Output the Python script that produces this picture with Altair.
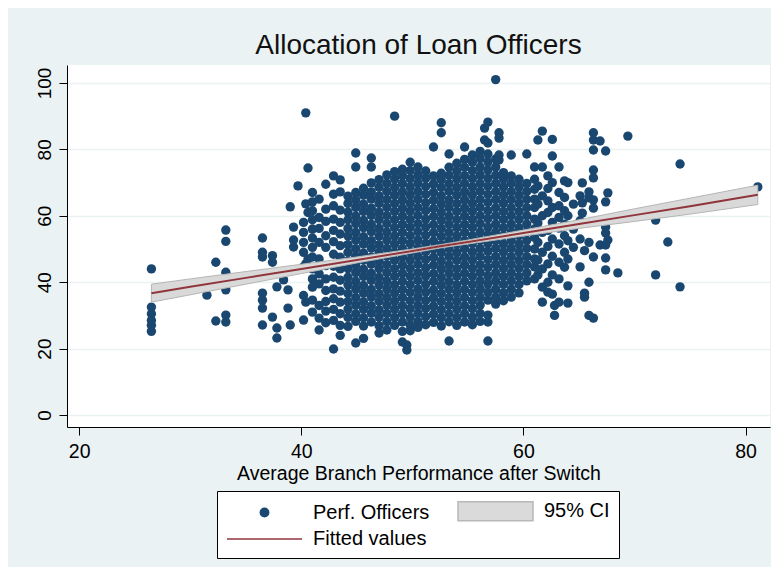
import altair as alt
import pandas as pd

# ---- scatter values: (branch performance, [officer performances]) ----
left_sparse = [
    (26.5, [44.0, 32.5, 30.5, 28.5, 27.0, 25.2]),
    (31.5, [36.1]),
    (32.3, [46.0, 28.3]),
    (33.2, [55.7, 52.3, 43.0, 37.7, 30.1, 28.0]),
    (36.5, [53.3, 49.0, 47.6, 36.7, 34.6, 32.2, 27.1]),
    (37.4, [48.0, 46.0, 29.5]),
    (37.8, [38.6, 26.2, 23.2]),
    (38.4, [40.7]),
    (38.8, [37.7, 32.2]),
    (39.0, [62.7, 27.1]),
    (39.3, [56.6, 52.7, 50.6]),
    (39.7, [69.0]),
]

left_columns = [
    (40.2, [58.0, 55.0, 52.0, 49.0, 44.6, 36.0, 28.6]),
    (40.4, [91.0, 63.6, 45.5, 34.0]),
    (40.6, [74.4, 61.0, 47.0]),
    (41.0, [67.0, 64.2, 61.5, 58.8, 56.0, 53.3, 50.5, 47.6, 44.0, 41.0, 38.5, 34.6, 31.0]),
    (41.6, [65.0, 59.5, 56.2, 52.0, 47.0, 42.5, 39.5, 33.0, 29.2, 25.6]),
    (42.2, [69.5, 62.0, 58.3, 54.0, 50.5, 45.0, 41.0, 37.5, 34.2, 31.3, 27.8]),
    (42.9, [72.0, 66.5, 63.0, 59.0, 55.6, 52.2, 48.4, 44.8, 41.5, 38.0, 35.0, 31.8, 28.5, 19.9]),
    (43.5, [70.8, 67.2, 61.7, 58.0, 54.5, 51.0, 47.5, 44.0, 40.6, 37.3, 34.0, 30.5, 27.0, 24.0]),
]

core_columns = [
    (44.2, [26.7, 29.4, 31.9, 34.2, 36.6, 39.2, 41.5, 44.1, 46.4, 49.0, 51.3, 53.9, 56.2, 58.8, 61.1, 63.7, 65.9]),
    (44.9, [21.7, 28.2, 30.5, 33.1, 35.4, 38.0, 40.3, 42.9, 45.2, 47.8, 50.1, 52.7, 55.0, 57.6, 59.9, 62.5, 64.8, 67.0, 74.7, 78.9]),
    (45.6, [23.1, 26.8, 29.3, 31.9, 34.1, 36.8, 39.0, 41.7, 43.9, 46.6, 48.8, 51.5, 53.7, 56.4, 58.6, 61.3, 63.5, 66.2, 68.3]),
    (46.3, [28.0, 30.7, 32.9, 35.6, 37.8, 40.5, 42.7, 45.4, 47.6, 50.3, 52.5, 55.2, 57.4, 60.1, 62.3, 65.0, 67.2, 69.9, 74.7, 77.4]),
    (47.0, [24.7, 26.9, 29.5, 31.7, 34.3, 36.6, 39.2, 41.5, 44.1, 46.4, 49.0, 51.3, 53.9, 56.2, 58.8, 61.1, 63.7, 66.0, 68.6, 70.9]),
    (47.7, [25.6, 28.1, 30.6, 33.1, 35.5, 38.0, 40.4, 42.9, 45.3, 47.8, 50.2, 52.7, 55.1, 57.6, 60.0, 62.5, 64.9, 67.4, 69.8, 72.3]),
    (48.4, [27.0, 29.4, 31.9, 34.3, 36.8, 39.2, 41.7, 44.1, 46.6, 49.0, 51.5, 53.9, 56.4, 58.8, 61.3, 63.7, 66.2, 68.6, 71.1, 73.3, 90.0]),
    (49.1, [22.0, 25.2, 28.0, 30.5, 32.9, 35.4, 37.8, 40.3, 42.7, 45.2, 47.6, 50.1, 52.5, 55.0, 57.4, 59.9, 62.3, 64.8, 67.2, 69.7, 72.1, 74.0]),
    (49.5, [19.6, 21.1]),
    (49.8, [25.4, 27.1, 29.5, 32.0, 34.4, 36.9, 39.3, 41.8, 44.2, 46.7, 49.1, 51.6, 54.0, 56.5, 58.9, 61.4, 63.8, 66.3, 68.7, 71.2, 73.6, 76.1]),
    (50.5, [26.4, 28.2, 30.7, 33.1, 35.6, 38.0, 40.5, 42.9, 45.4, 47.8, 50.3, 52.7, 55.2, 57.6, 60.1, 62.5, 65.0, 67.4, 69.9, 72.3, 74.7]),
    (51.2, [27.2, 29.6, 32.1, 34.5, 37.0, 39.4, 41.9, 44.3, 46.8, 49.2, 51.7, 54.1, 56.6, 59.0, 61.5, 63.9, 66.4, 68.8, 71.3, 73.5]),
    (51.9, [27.9, 30.4, 32.8, 35.3, 37.7, 40.2, 42.6, 45.1, 47.5, 50.0, 52.4, 54.9, 57.3, 59.8, 62.2, 64.7, 67.1, 69.6, 72.0, 80.7]),
    (52.6, [26.8, 29.3, 31.7, 34.2, 36.6, 39.1, 41.5, 44.0, 46.4, 48.9, 51.3, 53.8, 56.2, 58.7, 61.1, 63.6, 66.0, 68.5, 70.9, 72.8, 85.0, 88.0]),
    (53.3, [22.3, 28.1, 30.5, 33.0, 35.4, 37.9, 40.3, 42.8, 45.2, 47.7, 50.1, 52.6, 55.0, 57.5, 59.9, 62.4, 64.8, 67.3, 69.7, 72.2, 74.6, 78.6]),
    (54.0, [27.0, 29.4, 31.9, 34.3, 36.8, 39.2, 41.7, 44.1, 46.6, 49.0, 51.5, 53.9, 56.4, 58.8, 61.3, 63.7, 66.2, 68.6, 71.1, 73.5, 75.8]),
    (54.7, [28.0, 30.5, 32.9, 35.4, 37.8, 40.3, 42.7, 45.2, 47.6, 50.1, 52.5, 55.0, 57.4, 59.9, 62.3, 64.8, 67.2, 69.7, 72.1, 74.6, 77.0, 80.7]),
    (55.4, [27.2, 29.5, 32.0, 34.4, 36.9, 39.3, 41.8, 44.2, 46.7, 49.1, 51.6, 54.0, 56.5, 58.9, 61.4, 63.8, 66.3, 68.7, 71.2, 73.6, 76.1, 78.3]),
    (56.1, [28.2, 30.6, 33.1, 35.5, 38.0, 40.4, 42.9, 45.3, 47.8, 50.2, 52.7, 55.1, 57.6, 60.0, 62.5, 64.9, 67.4, 69.8, 72.3, 74.7, 77.2, 79.4]),
    (56.5, [86.4, 82.8]),
    (56.8, [22.3, 28.0, 30.1, 34.6, 37.0, 39.5, 41.9, 44.4, 46.8, 49.3, 51.7, 54.2, 56.6, 59.1, 61.5, 64.0, 66.4, 68.9, 71.3, 73.8, 76.2, 78.6, 81.9, 88.2]),
    (57.5, [33.4, 35.5, 37.9, 40.4, 42.8, 45.3, 47.7, 50.2, 52.6, 55.1, 57.5, 60.0, 62.4, 64.9, 67.3, 69.8, 72.2, 74.7, 77.1, 101.0]),
    (57.8, [85.0, 83.4, 78.3, 76.8]),
    (58.2, [34.4, 36.8, 39.3, 41.7, 44.2, 46.6, 49.1, 51.5, 54.0, 56.4, 58.9, 61.3, 63.8, 66.2, 68.7, 71.1, 73.0]),
    (58.9, [35.5, 37.9, 40.4, 42.8, 45.3, 47.7, 50.2, 52.6, 55.1, 57.5, 60.0, 62.4, 64.9, 67.3, 69.8, 72.0, 78.3]),
    (59.6, [36.8, 39.3, 41.7, 44.2, 46.6, 49.1, 51.5, 54.0, 56.4, 58.9, 61.3, 63.8, 66.2, 68.7, 71.0]),
    (60.3, [40.4, 42.8, 45.3, 47.7, 50.2, 52.6, 55.1, 57.5, 60.0, 62.4, 64.9, 67.3, 69.7, 78.6]),
]

right_band = [
    (61.0, [41.0, 44.6, 47.0, 50.0, 53.5, 56.0, 59.0, 62.5, 65.0, 68.0, 71.0, 74.7]),
    (61.3, [42.2, 46.7, 52.0, 57.8, 63.5, 69.0, 82.8]),
    (61.7, [85.5, 74.7, 66.0, 60.0, 55.0, 49.0, 44.0, 38.5, 34.0]),
    (62.2, [37.0, 40.0, 45.5, 50.8, 55.6, 61.0, 64.5, 68.2, 72.0]),
    (62.6, [83.0, 78.0, 70.0, 62.5, 58.0, 53.0, 47.8, 42.2, 36.4]),
    (62.8, [30.0, 33.0]),
    (63.2, [74.7, 67.0, 63.0, 59.5, 56.3, 51.5, 46.0, 41.0, 34.0]),
    (63.7, [70.5, 65.5, 61.5, 57.5, 54.0, 49.0, 44.5]),
    (64.0, [70.0, 60.0, 52.5, 47.0, 38.9, 33.7]),
    (64.5, [63.5, 56.0, 50.5]),
    (65.1, [44.6, 53.0, 58.5, 66.0]),
    (65.3, [69.9, 63.9, 60.8]),
    (65.5, [36.7, 35.5, 49.5]),
    (65.9, [67.2, 65.4, 52.0, 40.0, 30.0]),
    (66.3, [85.0, 82.8, 79.8, 73.8, 71.4, 64.8, 62.3, 47.6, 29.2]),
    (66.9, [82.5, 51.2]),
    (67.4, [79.5, 64.2, 56.6, 54.8, 51.2, 47.3, 43.7]),
    (67.6, [66.9, 52.7]),
]

right_outliers = [
    (68.5, [42.8]),
    (69.4, [84.0]),
    (71.9, [58.7, 42.2]),
    (73.0, [52.1]),
    (74.1, [75.6, 38.6]),
    (81.1, [68.7]),
]

# ---- fitted line and 95% CI ----
fit_x = [26.5, 30, 35, 40, 45, 50, 52.5, 55, 60, 65, 70, 75, 81.1]
fit_y = [36.7, 38.6, 41.3, 44.0, 46.7, 49.4, 50.8, 52.1, 54.8, 57.5, 60.2, 62.9, 66.3]
ci_hi = [39.4, 41.0, 43.2, 45.4, 47.6, 50.0, 51.3, 52.7, 55.7, 58.8, 62.1, 65.3, 69.2]
ci_lo = [34.0, 36.2, 39.4, 42.6, 45.8, 48.8, 50.3, 51.5, 53.9, 56.2, 58.3, 60.5, 63.4]

legend_items = ["Perf. Officers", "Fitted values", "95% CI"]

x_ticks = [20, 40, 60, 80]
y_ticks = [0, 20, 40, 60, 80, 100]

NAVY = "#1a476f"
RED = "#90353b"
BG = "#eaf2f3"
FONT = "Liberation Sans"

rows = []
for group in (left_sparse, left_columns, core_columns, right_band, right_outliers):
    for xv, ys in group:
        for yv in ys:
            rows.append({"perf": xv, "officers": yv})
scatter_df = pd.DataFrame(rows)
fit_df = pd.DataFrame({"perf": fit_x, "fit": fit_y, "lo": ci_lo, "hi": ci_hi})
legend_df = pd.DataFrame({"series": legend_items, "perf": [0, 0, 0], "officers": [-50, -50, -50]})

xscale = alt.Scale(domain=[18.9, 82.2], nice=False, zero=False)
yscale = alt.Scale(domain=[-3.6, 105.4], nice=False, zero=False)

xaxis = alt.Axis(values=x_ticks, format="d", title="Average Branch Performance after Switch",
                 grid=False, tickSize=8, tickColor="black", domainColor="black",
                 labelFontSize=19.5, titleFontSize=19.5, labelFont=FONT, titleFont=FONT,
                 labelColor="black", titleColor="black", titleFontWeight="normal",
                 labelPadding=7, titlePadding=4, labelFlush=False)
yaxis = alt.Axis(values=y_ticks, format="d", title=None, grid=True, gridColor=BG, gridWidth=1.5,
                 tickSize=8, tickColor="black", domainColor="black",
                 labelFontSize=19, labelFont=FONT, labelColor="black",
                 labelAngle=270, labelAlign="center", labelBaseline="bottom", labelPadding=5)

x_enc = alt.X("perf:Q", scale=xscale, axis=xaxis)
y_enc = alt.Y("officers:Q", scale=yscale, axis=yaxis)

circle_path = "M2.33,0A0.42,0.42,0,1,1,3.17,0A0.42,0.42,0,1,1,2.33,0Z"
rect_path = "M-1,-0.95H6.5V0.95H-1Z"
line_path = "M-1,0H6.5"

legend = alt.Legend(orient="none", legendX=150, legendY=426, columns=2, columnPadding=25,
                    rowPadding=4, padding=9, fillColor="white", strokeColor="black",
                    labelFontSize=20, labelFont=FONT, labelColor="black", labelOffset=65,
                    symbolStrokeWidth=1.5, symbolSize=400, symbolOpacity=1, title=None,
                    labelLimit=0)

legend_layer = alt.Chart(legend_df).mark_point(filled=True, size=400, clip=True).encode(
    x=alt.X("perf:Q", scale=xscale, axis=xaxis),
    y=alt.Y("officers:Q", scale=yscale, axis=yaxis),
    fill=alt.Fill("series:N", scale=alt.Scale(domain=legend_items, range=[NAVY, RED, "#dadada"]), legend=legend),
    stroke=alt.Stroke("series:N", scale=alt.Scale(domain=legend_items, range=[NAVY, RED, "#b8b8b8"]), legend=legend),
    shape=alt.Shape("series:N", scale=alt.Scale(domain=legend_items, range=[circle_path, line_path, rect_path]), legend=legend),
)

points = alt.Chart(scatter_df).mark_circle(size=88, color=NAVY, opacity=1).encode(x=x_enc, y=y_enc)

band = alt.Chart(fit_df).mark_area(color="#d9d9d9", stroke="#b5b5b5", strokeWidth=1, opacity=1).encode(
    x=alt.X("perf:Q", scale=xscale, axis=xaxis),
    y=alt.Y("lo:Q", scale=yscale, axis=yaxis),
    y2="hi:Q",
)

line = alt.Chart(fit_df).mark_line(color=RED, strokeWidth=2).encode(
    x=alt.X("perf:Q", scale=xscale, axis=xaxis),
    y=alt.Y("fit:Q", scale=yscale, axis=yaxis),
)

chart = alt.layer(legend_layer, points, band, line).properties(
    width=703, height=362,
    autosize=alt.AutoSizeParams(type="none"),
    padding={"left": 59, "top": 57, "right": 1, "bottom": 140},
    background=BG,
    title=alt.Title("Allocation of Loan Officers", fontSize=28, font=FONT, fontWeight="normal",
                    color="#111111", anchor="middle", frame="group", offset=5),
).configure_view(fill="white", stroke=None)

chart.save("out.html", embed_options={"renderer": "svg", "actions": False})
